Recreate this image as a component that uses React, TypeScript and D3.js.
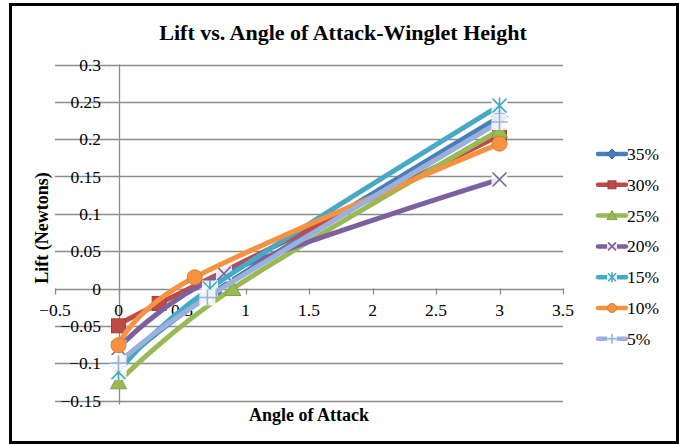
import React from "react";
import * as d3 from "d3";

const seriesNames = ["35%", "30%", "25%", "20%", "15%", "10%", "5%"];
const x35 = [0, 0.75, 3];
const y35 = [-0.105, -0.005, 0.23];
const x30 = [0, 0.32, 3];
const y30 = [-0.05, -0.02, 0.205];
const x25 = [0, 0.9, 3];
const y25 = [-0.125, 0.0, 0.212];
const x20 = [0, 0.83, 3];
const y20 = [-0.08, 0.02, 0.146];
const x15 = [0, 0.72, 3];
const y15 = [-0.112, 0.0, 0.245];
const x10 = [0, 0.6, 3];
const y10 = [-0.076, 0.015, 0.194];
const x5 = [0, 0.7, 3];
const y5 = [-0.1, -0.012, 0.223];

const xTicks = [-0.5, 0, 0.5, 1, 1.5, 2, 2.5, 3, 3.5];
const yTicks = [-0.15, -0.1, -0.05, 0, 0.05, 0.1, 0.15, 0.2, 0.25, 0.3];

const seriesX = [x35, x30, x25, x20, x15, x10, x5];
const seriesY = [y35, y30, y25, y20, y15, y10, y5];
const colors = ["#4A7EBB", "#BE4B48", "#98B954", "#7D60A0", "#46AAC5", "#F69240", "#9AB1DB"];
const markerTypes = ["diamond", "square", "triangle", "x", "asterisk", "circle", "plus"];

const FONT = "'Liberation Serif', 'Times New Roman', serif";

function Marker({ type, color, cx, cy, s }: { type: string; color: string; cx: number; cy: number; s: number }) {
  const h = s / 2;
  switch (type) {
    case "diamond":
      return <path d={`M${cx},${cy - h - 1}L${cx + h + 1},${cy}L${cx},${cy + h + 1}L${cx - h - 1},${cy}Z`} fill={color} stroke={d3.color(color)!.darker(0.5).toString()} strokeWidth={1} />;
    case "square":
      return <rect x={cx - h} y={cy - h} width={s} height={s} fill={color} stroke={d3.color(color)!.darker(0.5).toString()} strokeWidth={1} />;
    case "triangle":
      return <path d={`M${cx},${cy - h - 1}L${cx + h + 1},${cy + h}L${cx - h - 1},${cy + h}Z`} fill={color} stroke={d3.color(color)!.darker(0.4).toString()} strokeWidth={1} />;
    case "circle":
      return <circle cx={cx} cy={cy} r={h + 0.5} fill={color} stroke={d3.color(color)!.darker(0.4).toString()} strokeWidth={1} />;
    case "x":
      return (
        <g>
          <rect x={cx - h - 1} y={cy - h - 1} width={s + 2} height={s + 2} fill="#fff" opacity={0.85} />
          <path d={`M${cx - h},${cy - h}L${cx + h},${cy + h}M${cx - h},${cy + h}L${cx + h},${cy - h}`} stroke={color} strokeWidth={1.6} />
        </g>
      );
    case "asterisk":
      return (
        <g>
          <rect x={cx - h - 1} y={cy - h - 1} width={s + 2} height={s + 2} fill="#fff" opacity={0.85} />
          <path d={`M${cx - h},${cy - h}L${cx + h},${cy + h}M${cx - h},${cy + h}L${cx + h},${cy - h}M${cx},${cy - h - 1}L${cx},${cy + h + 1}`} stroke={color} strokeWidth={1.6} />
        </g>
      );
    case "plus":
      return (
        <g>
          <rect x={cx - h - 1} y={cy - h - 1} width={s + 2} height={s + 2} fill="#fff" opacity={0.85} />
          <path d={`M${cx - h - 1},${cy}L${cx + h + 1},${cy}M${cx},${cy - h - 1}L${cx},${cy + h + 1}`} stroke={color} strokeWidth={1.6} />
        </g>
      );
  }
  return null;
}

export default function App() {
  const W = 679, H = 445;
  const x = d3.scaleLinear().domain([-0.5, 3.5]).range([55, 563]);
  const y = d3.scaleLinear().domain([-0.15, 0.3]).range([400.5, 64.5]);
  const line = d3.line<[number, number]>().x(d => x(d[0])).y(d => y(d[1])).curve(d3.curveCardinal.tension(0));
  const grid = "#8C8C8C";

  return (
    <svg width={W} height={H} style={{ position: "absolute", left: 0, top: 0, background: "#fff" }}>
      <rect x={0} y={0} width={W} height={H} fill="#fff" />
      <rect x={10.5} y={4.5} width={667} height={438} fill="none" stroke="#000" strokeWidth={3} />
      <text x={343} y={39.5} textAnchor="middle" fontFamily={FONT} fontWeight="bold" fontSize={22}>
        Lift vs. Angle of Attack-Winglet Height
      </text>
      {yTicks.map(t => (
        <line key={"g" + t} x1={55} x2={563} y1={Math.round(y(t)) + 0.5} y2={Math.round(y(t)) + 0.5} stroke={grid} strokeWidth={1.3} />
      ))}
      <line x1={Math.round(x(0)) + 0.5} x2={Math.round(x(0)) + 0.5} y1={y(0.3)} y2={y(-0.15) + 4} stroke={grid} strokeWidth={1.3} />
      {xTicks.map(t => (
        <line key={"t" + t} x1={Math.round(x(t)) + 0.5} x2={Math.round(x(t)) + 0.5} y1={y(0)} y2={y(0) + 6} stroke={grid} strokeWidth={1.3} />
      ))}
      {yTicks.map(t => (
        <text key={"yl" + t} x={101} y={y(t) + 6} textAnchor="end" fontFamily={FONT} fontSize={17.5}>
          {d3.format("")(t)}
        </text>
      ))}
      {xTicks.map(t => (
        <text key={"xl" + t} x={x(t)} y={316} textAnchor="middle" fontFamily={FONT} fontSize={17.5}>
          {d3.format("")(t)}
        </text>
      ))}
      <text x={309} y={421} textAnchor="middle" fontFamily={FONT} fontWeight="bold" fontSize={18}>
        Angle of Attack
      </text>
      <text transform="translate(48,228) rotate(-90)" textAnchor="middle" fontFamily={FONT} fontWeight="bold" fontSize={18}>
        Lift (Newtons)
      </text>
      {seriesNames.map((name, i) => {
        const pts: [number, number][] = seriesX[i].map((xv, j) => [xv, seriesY[i][j]]);
        return (
          <g key={name}>
            <path d={line(pts)!} fill="none" stroke={colors[i]} strokeWidth={5} strokeLinecap="round" />
            {pts.map((p, j) => (
              <Marker key={j} type={markerTypes[i]} color={colors[i]} cx={x(p[0])} cy={y(p[1])} s={14} />
            ))}
          </g>
        );
      })}
      {seriesNames.map((name, i) => {
        const ly = 154 + i * 30.8;
        return (
          <g key={"lg" + name}>
            <line x1={598} x2={626} y1={ly} y2={ly} stroke={colors[i]} strokeWidth={4.5} strokeLinecap="round" />
            <Marker type={markerTypes[i]} color={colors[i]} cx={612} cy={ly} s={8} />
            <text x={627} y={ly + 6} fontFamily={FONT} fontSize={17.5}>
              {name}
            </text>
          </g>
        );
      })}
    </svg>
  );
}
